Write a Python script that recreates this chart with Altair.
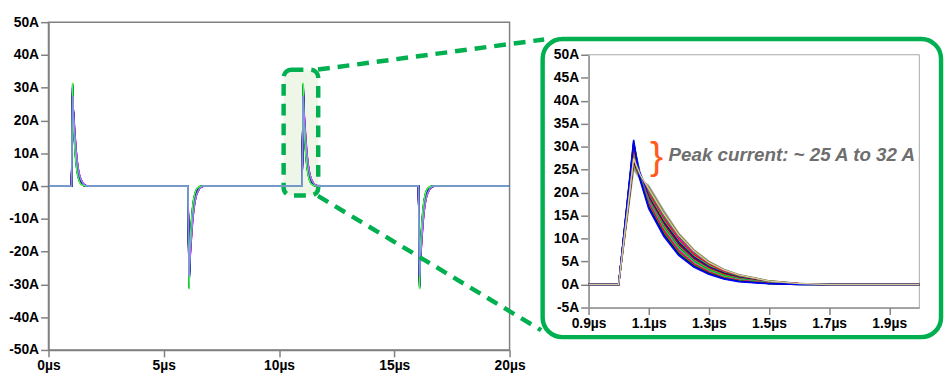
import altair as alt
import pandas as pd

# ---------------- data ----------------
# time after pulse start (µs) at which each trace was read
REL_T = [0.0, 0.05, 0.07, 0.1, 0.15, 0.2, 0.25, 0.3, 0.35, 0.4, 0.5, 0.6]
TAIL_T = 0.7
# Monte-Carlo current traces (A), listed in drawing order
TRACES = [
    [0, 25.0, 23.0, 21.6, 16.2, 11.2, 7.6, 5.1, 3.3, 2.2, 0.8, 0.25],
    [0, 25.6, 23.2, 21.3, 15.9, 11.0, 7.5, 5.0, 3.3, 2.1, 0.8, 0.22],
    [0, 26.2, 23.4, 21.0, 15.6, 10.9, 7.4, 4.9, 3.2, 2.1, 0.75, 0.2],
    [0, 26.8, 23.6, 20.5, 15.1, 10.5, 7.1, 4.7, 3.1, 2.0, 0.7, 0.18],
    [0, 28.1, 24.2, 20.3, 14.8, 10.2, 6.9, 4.6, 3.0, 2.0, 0.7, 0.18],
    [0, 27.4, 23.5, 19.9, 14.5, 10.0, 6.7, 4.4, 2.9, 1.9, 0.65, 0.15],
    [0, 28.6, 24.2, 19.7, 14.2, 9.7, 6.5, 4.3, 2.8, 1.8, 0.6, 0.15],
    [0, 27.9, 23.5, 19.4, 13.9, 9.4, 6.2, 4.1, 2.6, 1.7, 0.55, 0.12],
    [0, 30.6, 24.6, 19.2, 13.6, 9.2, 6.0, 3.9, 2.5, 1.6, 0.5, 0.12],
    [0, 28.4, 23.6, 19.0, 13.4, 8.9, 5.8, 3.7, 2.4, 1.5, 0.5, 0.1],
    [0, 29.3, 24.0, 18.8, 13.1, 8.6, 5.6, 3.6, 2.2, 1.4, 0.45, 0.1],
    [0, 28.8, 23.5, 18.5, 12.8, 8.3, 5.3, 3.4, 2.1, 1.3, 0.4, 0.08],
    [0, 30.1, 24.1, 18.3, 12.5, 8.1, 5.1, 3.2, 1.9, 1.2, 0.35, 0.08],
    [0, 29.6, 23.6, 18.0, 12.2, 7.8, 4.9, 3.0, 1.8, 1.1, 0.3, 0.05],
    [0, 30.4, 23.9, 17.8, 11.9, 7.5, 4.6, 2.8, 1.6, 1.0, 0.3, 0.05],
    [0, 29.9, 23.4, 17.5, 11.6, 7.2, 4.4, 2.7, 1.5, 0.9, 0.25, 0.05],
    [0, 31.2, 23.7, 17.2, 11.2, 6.9, 4.2, 2.5, 1.4, 0.8, 0.2, 0.0],
    [0, 30.8, 23.3, 16.9, 10.9, 6.6, 4.0, 2.4, 1.3, 0.7, 0.2, 0.0],
    [0, 31.5, 23.0, 16.5, 10.5, 6.3, 3.8, 2.2, 1.2, 0.6, 0.15, 0.0],
    [0, 27.5, 24.1, 20.8, 15.4, 10.7, 7.3, 4.8, 3.2, 2.1, 0.75, 0.2],
]
RIGHT_COLORS = ["#b8b8b8", "#909090", "#808000", "#000000", "#00a000",
                "#ff00ff", "#ff0000", "#00ff00", "#0000ff", "#800000",
                "#800080", "#a0a000", "#008080", "#00ff00", "#ff00ff",
                "#ff0000", "#00c000", "#000080", "#0000ff", "#d8c89e"]
LEFT_COLORS = ["#ff60ff", "#ff00ff", "#e000e0", "#ff40a0", "#000000",
               "#ff00ff", "#ff0000", "#008000", "#0000ff", "#800080",
               "#000000", "#0000c0", "#0000a0", "#ff00ff", "#000080",
               "#0000ff", "#000000", "#0000c0", "#40ff40", "#8c8cf0"]

PULSE_STARTS = [1.0, 6.05, 11.0, 16.05]
PULSE_SIGNS = [1, -1, 1, -1]

LEFT_X_DOMAIN = [0, 20]
LEFT_Y_DOMAIN = [-50, 50]
LEFT_X_TICKS = [0, 5, 10, 15, 20]
LEFT_Y_TICKS = [-50, -40, -30, -20, -10, 0, 10, 20, 30, 40, 50]

RIGHT_X_DOMAIN = [0.9, 2.0]
RIGHT_Y_DOMAIN = [-5, 50]
RIGHT_X_TICKS = [0.9, 1.1, 1.3, 1.5, 1.7, 1.9]
RIGHT_Y_TICKS = [-5, 0, 5, 10, 15, 20, 25, 30, 35, 40, 45, 50]

ZOOM_BOX_T = [10.2, 11.7]
ZOOM_BOX_A = [-2.9, 35.5]
ANNOTATION = "Peak current: ~ 25 A to 32 A"
BRACE_AT = [1.126, 27.8]
ANNOT_AT = [1.166, 28.1]

# ---------------- tables ----------------
trace_ids = [f"t{i:02d}" for i in range(len(TRACES))]

rows_l = []
for tid, vals in zip(trace_ids, TRACES):
    rows_l.append((tid, float(LEFT_X_DOMAIN[0]), 0.0))
    for s, g in zip(PULSE_STARTS, PULSE_SIGNS):
        for rt, v in zip(REL_T, vals):
            rows_l.append((tid, round(s + rt, 4), g * v))
        rows_l.append((tid, round(s + TAIL_T, 4), 0.0))
    rows_l.append((tid, float(LEFT_X_DOMAIN[1]), 0.0))
left_df = pd.DataFrame(rows_l, columns=["trace", "t", "a"])

rows_r = []
for tid, vals in zip(trace_ids, TRACES):
    rows_r.append((tid, RIGHT_X_DOMAIN[0], 0.0))
    for rt, v in zip(REL_T, vals):
        rows_r.append((tid, round(PULSE_STARTS[0] + rt, 4), v))
    rows_r.append((tid, round(PULSE_STARTS[0] + TAIL_T, 4), 0.0))
    rows_r.append((tid, RIGHT_X_DOMAIN[1], 0.0))
right_df = pd.DataFrame(rows_r, columns=["trace_r", "tr", "ar"])

one = pd.DataFrame({"k": [0]})

FONT = "Liberation Sans"
GREEN = "#00B050"
GREY = "#808080"
DX = 2  # horizontal placement of the zoom panel relative to the main plot


def axis_common(**kw):
    return alt.Axis(title=None, labelOverlap=False, labelFlush=False,
                    labelFont=FONT, labelFontSize=14, labelFontWeight="bold",
                    labelColor="black", labelPadding=2, domainColor=GREY,
                    tickColor=GREY, domainWidth=1.5, tickWidth=1.5, grid=False, **kw)


LX_AXIS = axis_common(values=LEFT_X_TICKS, labelExpr="datum.value + 'µs'", tickSize=7)
LY_AXIS = axis_common(values=LEFT_Y_TICKS, labelExpr="datum.value + 'A'", tickSize=8)
RX_AXIS = axis_common(orient="bottom", offset=-43, values=RIGHT_X_TICKS,
                      labelExpr="format(datum.value, '.1f') + 'µs'", tickSize=7)
RY_AXIS = axis_common(orient="left", offset=-(545 + DX), values=RIGHT_Y_TICKS,
                      labelExpr="datum.value + 'A'", tickSize=8)

# ---------------- left (full) plot ----------------
lx = alt.Scale(domain=LEFT_X_DOMAIN, nice=False, zero=False)
ly = alt.Scale(domain=LEFT_Y_DOMAIN, nice=False, zero=False)

zoom_box = alt.Chart(one).mark_rect(
    fill="#EEF6E8", stroke=GREEN, strokeWidth=4.5, strokeDash=[12, 8], cornerRadius=8
).encode(
    x=alt.XDatum(ZOOM_BOX_T[0], scale=lx, axis=LX_AXIS), x2=alt.X2Datum(ZOOM_BOX_T[1]),
    y=alt.YDatum(ZOOM_BOX_A[1], scale=ly, axis=LY_AXIS), y2=alt.Y2Datum(ZOOM_BOX_A[0]),
)

left_lines = alt.Chart(left_df).mark_line(strokeWidth=1.5).encode(
    x=alt.X("t:Q", scale=lx, axis=LX_AXIS),
    y=alt.Y("a:Q", scale=ly, axis=LY_AXIS),
    color=alt.Color("trace:N", scale=alt.Scale(domain=trace_ids, range=LEFT_COLORS), legend=None),
)

left_layer = alt.layer(zoom_box, left_lines)

# ---------------- right (zoomed) plot ----------------
rx = alt.Scale(domain=RIGHT_X_DOMAIN, range=[545 + DX, 880 + DX], nice=False, zero=False)
ry = alt.Scale(domain=RIGHT_Y_DOMAIN, range=[289, 33], nice=False, zero=False)

right_frame = alt.Chart(one).mark_rect(
    fillOpacity=0, stroke="#a8a8a8", strokeWidth=1
).encode(
    x=alt.XDatum(RIGHT_X_DOMAIN[0], scale=rx, axis=RX_AXIS), x2=alt.X2Datum(RIGHT_X_DOMAIN[1]),
    y=alt.YDatum(RIGHT_Y_DOMAIN[1], scale=ry, axis=RY_AXIS), y2=alt.Y2Datum(RIGHT_Y_DOMAIN[0]),
)

right_lines = alt.Chart(right_df).mark_line(strokeWidth=1.5).encode(
    x=alt.X("tr:Q", scale=rx, axis=RX_AXIS),
    y=alt.Y("ar:Q", scale=ry, axis=RY_AXIS),
    color=alt.Color("trace_r:N", scale=alt.Scale(domain=trace_ids, range=RIGHT_COLORS), legend=None),
)

brace = alt.Chart(one).mark_text(
    text="}", font=FONT, fontSize=40, color="#FF5B1F", align="center", baseline="middle"
).encode(x=alt.XDatum(BRACE_AT[0], scale=rx, axis=RX_AXIS),
         y=alt.YDatum(BRACE_AT[1], scale=ry, axis=RY_AXIS))

annot = alt.Chart(one).mark_text(
    text=ANNOTATION, font=FONT, fontSize=19, fontStyle="italic", fontWeight="bold",
    color="#6e6e6e", align="left", baseline="middle"
).encode(x=alt.XDatum(ANNOT_AT[0], scale=rx, axis=RX_AXIS),
         y=alt.YDatum(ANNOT_AT[1], scale=ry, axis=RY_AXIS))

right_layer = alt.layer(right_frame, right_lines, brace, annot)

# ---------------- callout decorations ----------------
green_box = alt.Chart(one).mark_rect(
    fillOpacity=0, stroke=GREEN, strokeWidth=4.5, cornerRadius=20
).encode(x=alt.value(498.5 + DX), x2=alt.value(902 + DX), y=alt.value(17), y2=alt.value(319))

conn_top = alt.Chart(one).mark_rule(
    stroke=GREEN, strokeWidth=4.5, strokeDash=[12, 8]
).encode(x=alt.value(273), y=alt.value(48), x2=alt.value(500 + DX), y2=alt.value(17.5))

conn_bot = alt.Chart(one).mark_rule(
    stroke=GREEN, strokeWidth=4.5, strokeDash=[12, 8]
).encode(x=alt.value(273), y=alt.value(176), x2=alt.value(497 + DX), y2=alt.value(312))

chart = alt.layer(
    left_layer, right_layer, green_box, conn_top, conn_bot
).resolve_scale(
    x="independent", y="independent", color="independent"
).properties(
    width=467, height=332,
    padding={"left": 0, "top": 5, "right": 0, "bottom": 0},
    autosize=alt.AutoSizeParams(type="pad"),
).configure_view(
    stroke=GREY, strokeWidth=1.5
).configure_axis(
    labelOverlap=False, grid=False,
)

chart.save("out.html", embed_options={"renderer": "svg", "actions": False})
